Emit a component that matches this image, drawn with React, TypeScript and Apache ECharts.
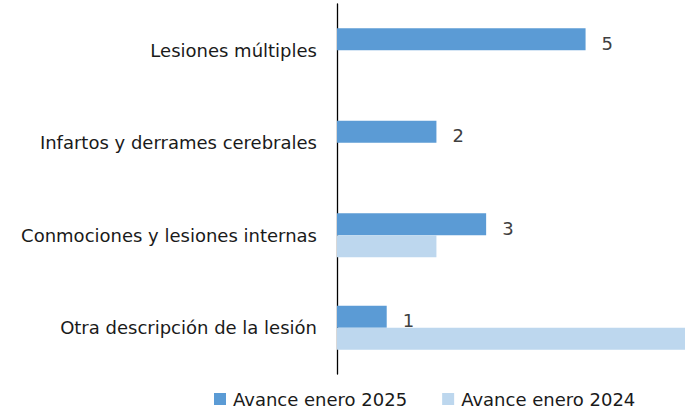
import React, { useEffect, useRef } from "react";
import * as echarts from "echarts";

const categories = [
  "Lesiones múltiples",
  "Infartos y derrames cerebrales",
  "Conmociones y lesiones internas",
  "Otra descripción de la lesión",
];
const series2025Name = "Avance enero 2025";
const series2024Name = "Avance enero 2024";
const values2025 = [5, 2, 3, 1];
const values2024 = [0, 0, 2, 7];

export default function App() {
  const ref = useRef<HTMLDivElement>(null);
  useEffect(() => {
    if (!ref.current) return;
    const chart = echarts.init(ref.current, null, { renderer: "svg" });
    const font = "DejaVu Sans";
    chart.setOption({
      animation: false,
      textStyle: { fontFamily: font },
      grid: { left: 337, top: 4, width: 348, height: 370, containLabel: false },
      legend: {
        left: 214,
        top: 390,
        padding: 0,
        itemWidth: 12,
        itemHeight: 12,
        itemGap: 35,
        icon: "rect",
        textStyle: { fontFamily: font, fontSize: 18, lineHeight: 18, color: "#1a1a1a", padding: [0, 0, 0, 2] },
        data: [series2025Name, series2024Name],
      },
      xAxis: {
        type: "value",
        min: 0,
        max: 7,
        show: false,
      },
      yAxis: {
        type: "category",
        inverse: true,
        data: categories,
        axisLine: { show: true, lineStyle: { color: "#000", width: 1.3 } },
        axisTick: { show: false },
        axisLabel: { fontFamily: font, fontSize: 18, color: "#1a1a1a", margin: 20 },
      },
      series: [
        {
          name: series2025Name,
          type: "bar",
          data: values2025,
          barWidth: 22,
          barGap: "0%",
          itemStyle: { color: "#5B9BD5" },
          label: {
            show: true,
            position: "right",
            distance: 16,
            fontFamily: font,
            fontSize: 18,
            color: "#404040",
            offset: [0, 4],
          },
        },
        {
          name: series2024Name,
          type: "bar",
          data: values2024,
          barWidth: 22,
          barGap: "0%",
          itemStyle: { color: "#BDD7EE" },
        },
      ],
    });
    return () => chart.dispose();
  }, []);
  return <div ref={ref} style={{ width: 690, height: 411, position: "absolute", left: 0, top: 0 }} />;
}
